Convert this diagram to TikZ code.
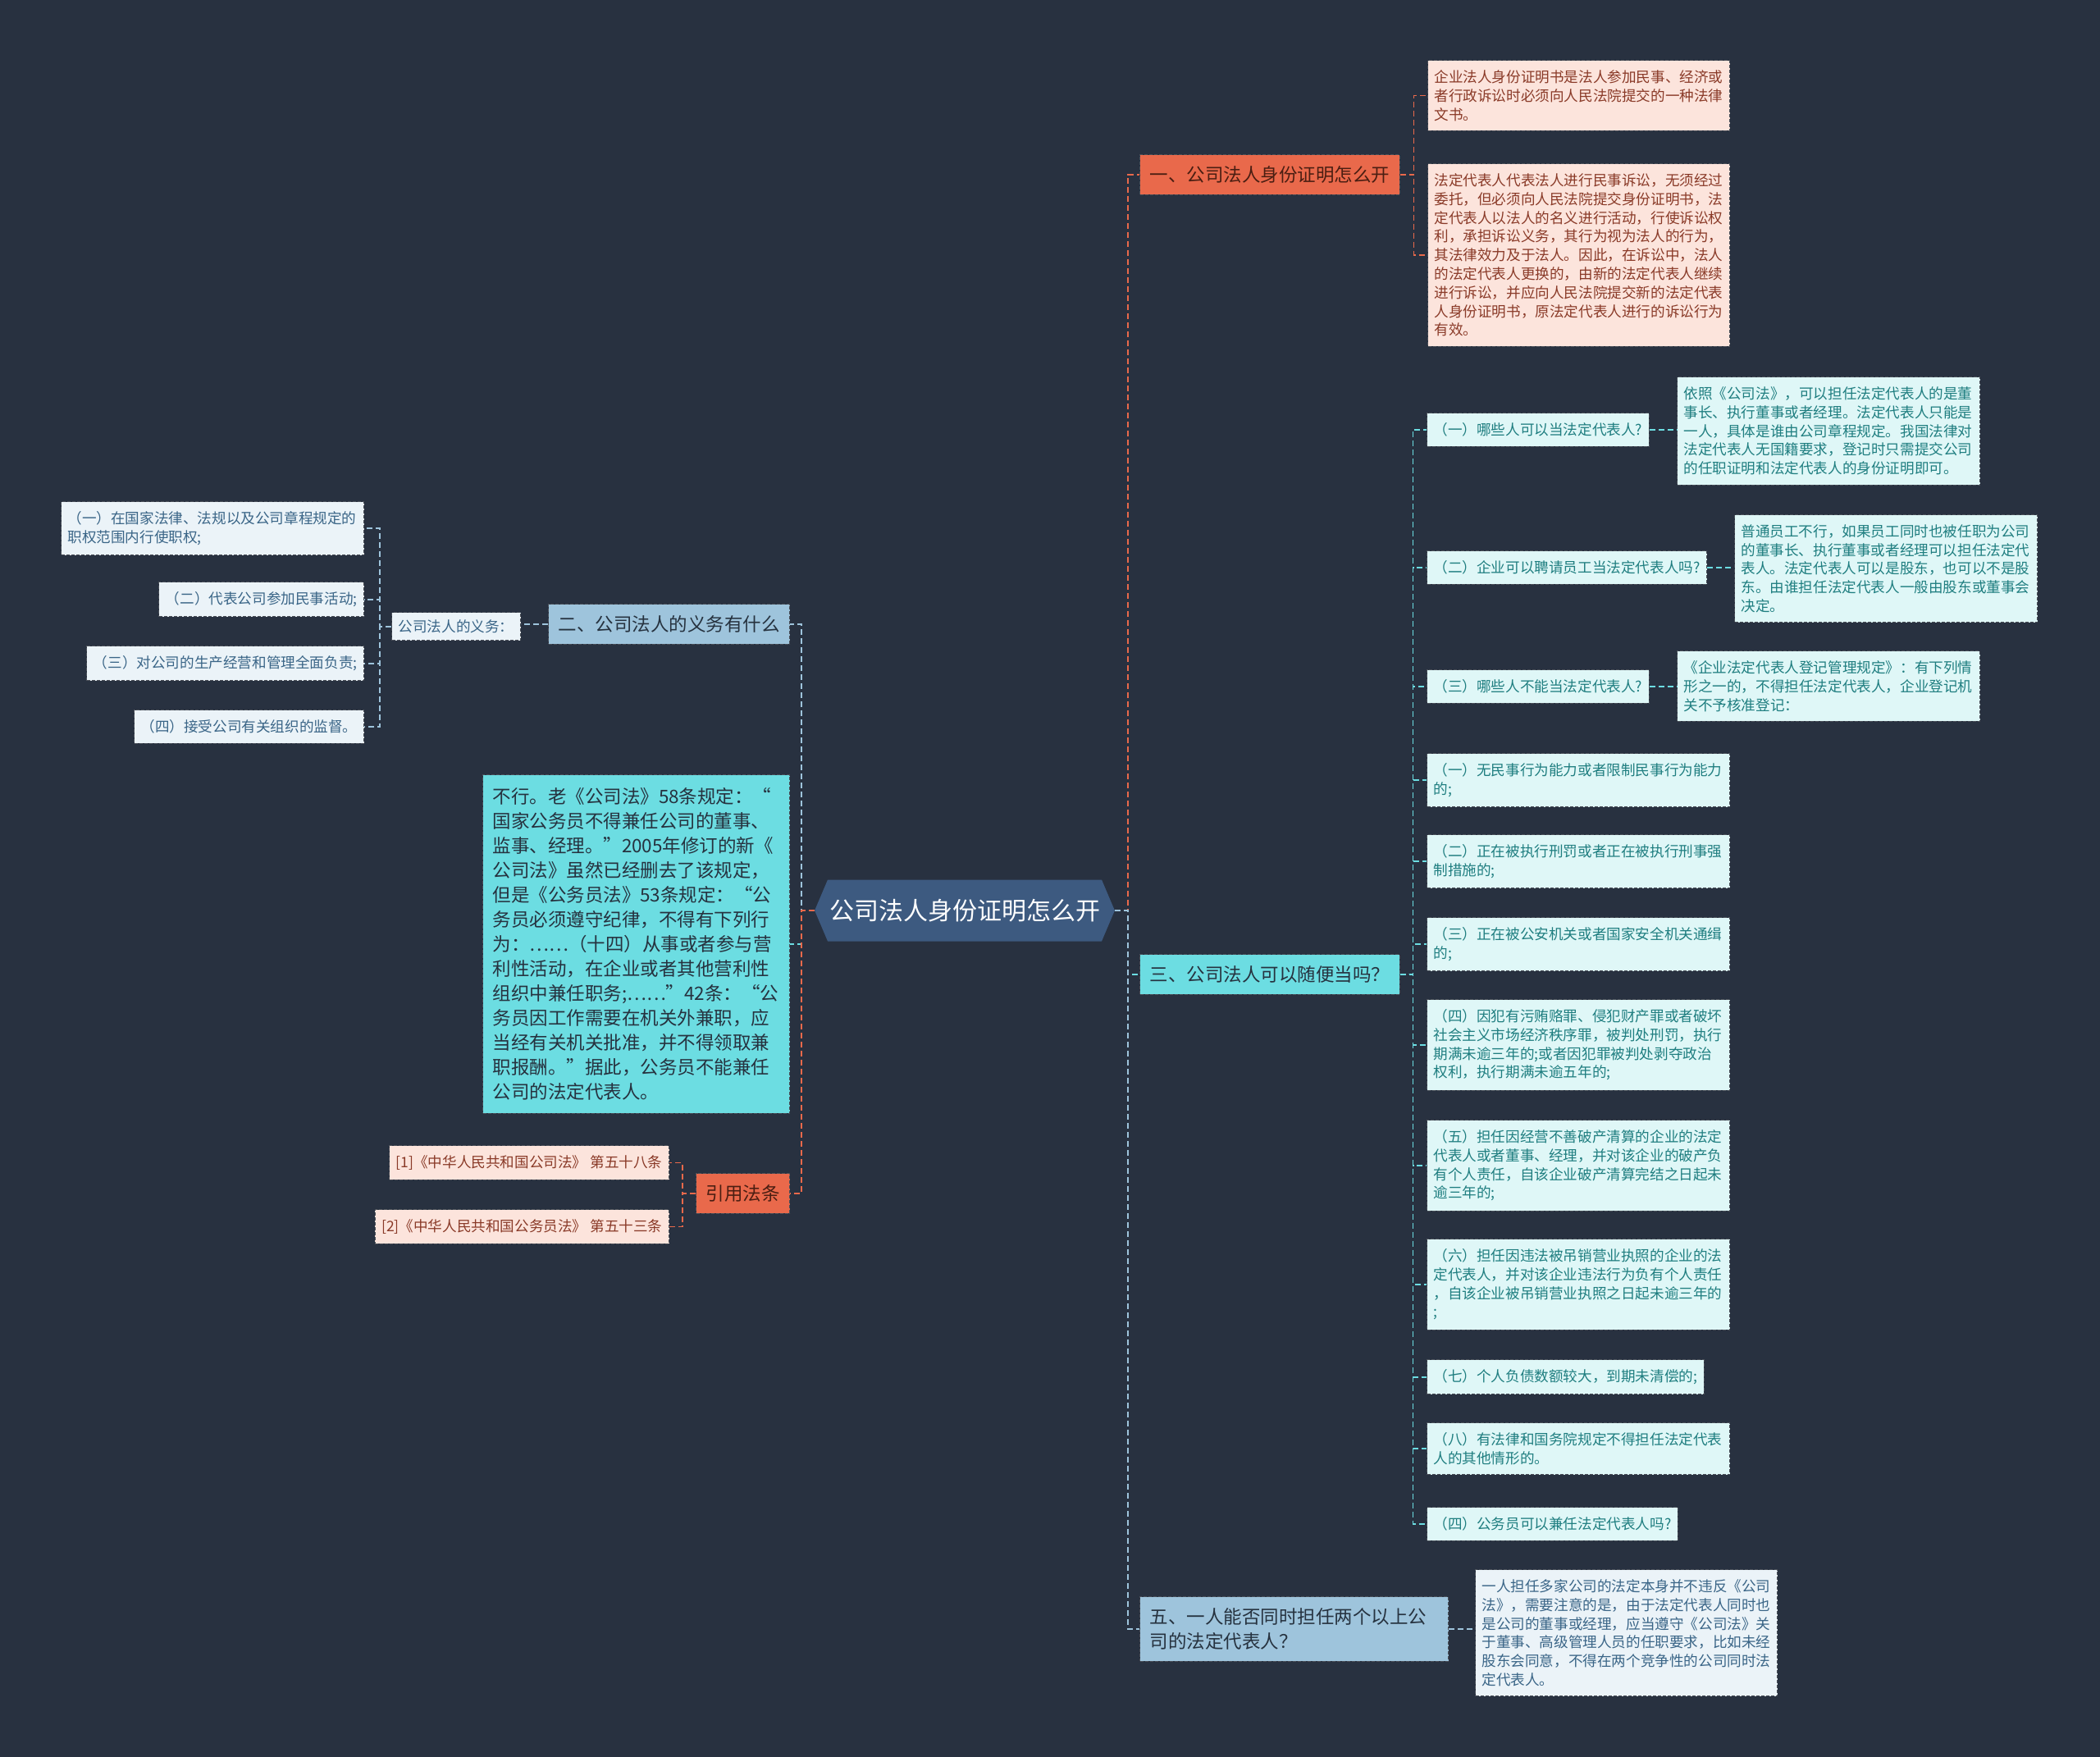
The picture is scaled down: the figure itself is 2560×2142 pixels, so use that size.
\documentclass[tikz,border=0pt]{standalone}
\usepackage{fontspec}
\setmainfont{Noto Sans CJK SC}
\usepackage{tikz}
\usetikzlibrary{shapes.symbols}

\definecolor{bgc}{HTML}{283140}
\definecolor{rootc}{HTML}{3D5A80}
\definecolor{redc}{HTML}{E9694B}
\definecolor{redtxt}{HTML}{4A1E12}
\definecolor{pinkc}{HTML}{FCE4DC}
\definecolor{pinktxt}{HTML}{8A3A28}
\definecolor{bluec}{HTML}{9EC4DC}
\definecolor{palec}{HTML}{EBF3F8}
\definecolor{paletxt}{HTML}{3A6587}
\definecolor{tealc}{HTML}{6CDDE2}
\definecolor{mintc}{HTML}{DFF7F7}
\definecolor{minttxt}{HTML}{1F7E80}
\definecolor{darktxt}{HTML}{26323F}
\definecolor{edgec}{HTML}{4A4F58}

\begin{document}
\begin{tikzpicture}[x=1pt,y=-1pt,
  leaf/.style={draw=edgec, dash pattern=on 4pt off 2pt, line width=1pt, align=left,
    inner xsep=8pt, inner ysep=12pt, font=\fontsize{17.6}{22.8}\selectfont},
  pinkleaf/.style={leaf, fill=pinkc, text=pinktxt},
  paleleaf/.style={leaf, fill=palec, text=paletxt},
  mintleaf/.style={leaf, fill=mintc, text=minttxt},
  topic/.style={draw=edgec, dash pattern=on 4pt off 2pt, line width=1pt, align=left,
    inner xsep=12pt, inner ysep=14pt, font=\fontsize{22.5}{30}\selectfont},
  redtopic/.style={topic, fill=redc, text=redtxt},
  bluetopic/.style={topic, fill=bluec, text=darktxt},
  tealtopic/.style={topic, fill=tealc, text=darktxt},
  rootnode/.style={signal, signal to=west and east, signal pointer angle=134,
    fill=rootc, text=white, minimum height=75pt, inner xsep=2pt,
    font=\fontsize{30}{36}\selectfont},
  link/.style={dash pattern=on 7pt off 4pt, line width=2.2pt},
  redlink/.style={link, draw=redc},
  bluelink/.style={link, draw=bluec},
  teallink/.style={link, draw=tealc}]

\fill [bgc] (0,0) rectangle (2560,2142);

\node [rootnode] (root) at (1176,1110) {公司法人身份证明怎么开};

% right side
\node [redtopic, anchor=north west] (q1) at (1389,188) {一、公司法人身份证明怎么开};
\node [pinkleaf, anchor=north west, text width=352pt] (a1) at (1740,73)
  {企业法人身份证明书是法人参加民事、经济或\\者行政诉讼时必须向人民法院提交的一种法律\\文书。};
\node [pinkleaf, anchor=north west, text width=352pt] (a2) at (1740,199)
  {法定代表人代表法人进行民事诉讼，无须经过\\委托，但必须向人民法院提交身份证明书，法\\定代表人以法人的名义进行活动，行使诉讼权\\利，承担诉讼义务，其行为视为法人的行为，\\其法律效力及于法人。因此，在诉讼中，法人\\的法定代表人更换的，由新的法定代表人继续\\进行诉讼，并应向人民法院提交新的法定代表\\人身份证明书，原法定代表人进行的诉讼行为\\有效。};

\node [tealtopic, anchor=north west] (q3) at (1389,1163) {三、公司法人可以随便当吗？};
\node [mintleaf, anchor=north west] (s1) at (1739,503) {（一）哪些人可以当法定代表人?};
\node [mintleaf, anchor=north west, text width=353pt] (s1a) at (2044,459)
  {依照《公司法》，可以担任法定代表人的是董\\事长、执行董事或者经理。法定代表人只能是\\一人，具体是谁由公司章程规定。我国法律对\\法定代表人无国籍要求，登记时只需提交公司\\的任职证明和法定代表人的身份证明即可。};
\node [mintleaf, anchor=north west] (s2) at (1739,671) {（二）企业可以聘请员工当法定代表人吗?};
\node [mintleaf, anchor=north west, text width=353pt] (s2a) at (2114,627)
  {普通员工不行，如果员工同时也被任职为公司\\的董事长、执行董事或者经理可以担任法定代\\表人。法定代表人可以是股东，也可以不是股\\东。由谁担任法定代表人一般由股东或董事会\\决定。};
\node [mintleaf, anchor=north west] (s3) at (1739,816) {（三）哪些人不能当法定代表人?};
\node [mintleaf, anchor=north west, text width=353pt] (s3a) at (2044,793)
  {《企业法定代表人登记管理规定》：有下列情\\形之一的，不得担任法定代表人，企业登记机\\关不予核准登记：};
\node [mintleaf, anchor=north west, text width=353pt] (i1) at (1739,918)
  {（一）无民事行为能力或者限制民事行为能力\\的;};
\node [mintleaf, anchor=north west, text width=353pt] (i2) at (1739,1017)
  {（二）正在被执行刑罚或者正在被执行刑事强\\制措施的;};
\node [mintleaf, anchor=north west, text width=353pt] (i3) at (1739,1118)
  {（三）正在被公安机关或者国家安全机关通缉\\的;};
\node [mintleaf, anchor=north west, text width=353pt] (i4) at (1739,1218)
  {（四）因犯有污贿赂罪、侵犯财产罪或者破坏\\社会主义市场经济秩序罪，被判处刑罚，执行\\期满未逾三年的;或者因犯罪被判处剥夺政治\\权利，执行期满未逾五年的;};
\node [mintleaf, anchor=north west, text width=353pt] (i5) at (1739,1365)
  {（五）担任因经营不善破产清算的企业的法定\\代表人或者董事、经理，并对该企业的破产负\\有个人责任，自该企业破产清算完结之日起未\\逾三年的;};
\node [mintleaf, anchor=north west, text width=353pt] (i6) at (1739,1510)
  {（六）担任因违法被吊销营业执照的企业的法\\定代表人，并对该企业违法行为负有个人责任\\，自该企业被吊销营业执照之日起未逾三年的\\;};
\node [mintleaf, anchor=north west] (i7) at (1739,1657) {（七）个人负债数额较大，到期未清偿的;};
\node [mintleaf, anchor=north west, text width=353pt] (i8) at (1739,1734)
  {（八）有法律和国务院规定不得担任法定代表\\人的其他情形的。};
\node [mintleaf, anchor=north west] (s4) at (1739,1837) {（四）公务员可以兼任法定代表人吗?};

\node [bluetopic, anchor=north west, text width=352pt] (q5) at (1389,1946)
  {五、一人能否同时担任两个以上公\\司的法定代表人？};
\node [paleleaf, anchor=north west, text width=352pt] (q5a) at (1798,1913)
  {一人担任多家公司的法定本身并不违反《公司\\法》，需要注意的是，由于法定代表人同时也\\是公司的董事或经理，应当遵守《公司法》关\\于董事、高级管理人员的任职要求，比如未经\\股东会同意，不得在两个竞争性的公司同时法\\定代表人。};

% left side
\node [bluetopic, anchor=north east] (q2) at (963,736) {二、公司法人的义务有什么};
\node [paleleaf, anchor=north east, inner ysep=9pt] (duty) at (635,746) {公司法人的义务：};
\node [paleleaf, anchor=north east, text width=353pt] (d1) at (444,611)
  {（一）在国家法律、法规以及公司章程规定的\\职权范围内行使职权;};
\node [paleleaf, anchor=north east] (d2) at (444,709) {（二）代表公司参加民事活动;};
\node [paleleaf, anchor=north east] (d3) at (444,787) {（三）对公司的生产经营和管理全面负责;};
\node [paleleaf, anchor=north east] (d4) at (444,865) {（四）接受公司有关组织的监督。};

\node [tealtopic, anchor=north east, text width=350pt, inner ysep=16pt] (tb) at (963,944)
  {不行。老《公司法》58条规定：“\\国家公务员不得兼任公司的董事、\\监事、经理。”2005年修订的新《\\公司法》虽然已经删去了该规定，\\但是《公务员法》53条规定：“公\\务员必须遵守纪律，不得有下列行\\为：……（十四）从事或者参与营\\利性活动，在企业或者其他营利性\\组织中兼任职务;……”42条：“公\\务员因工作需要在机关外兼职，应\\当经有关机关批准，并不得领取兼\\职报酬。”据此，公务员不能兼任\\公司的法定代表人。};

\node [redtopic, anchor=north east] (cite) at (963,1430) {引用法条};
\node [pinkleaf, anchor=north east] (r1) at (816,1396) {[1]《中华人民共和国公司法》 第五十八条};
\node [pinkleaf, anchor=north east] (r2) at (816,1474) {[2]《中华人民共和国公务员法》 第五十三条};

% connectors
\draw [teallink] (root.west) -- ++(-16,0) |- (tb.east);
\draw [bluelink] (root.west) -- ++(-16,0) |- (q2.east);
\draw [redlink] (root.west) -- ++(-16,0) |- (cite.east);
\draw [redlink] (root.east) -- ++(16,0) |- (q1.west);
\draw [teallink] (root.east) -- ++(16,0) |- (q3.west);
\draw [bluelink] (root.east) -- ++(16,0) |- (q5.west);

\foreach \c in {a1,a2}
{
\draw [redlink, line width=1.8pt] (q1.east) -- ++(17,0) |- (\c.west);
}
\foreach \c in {s1,s2,s3,i1,i2,i3,i4,i5,i6,i7,i8,s4}
{
\draw [teallink, line width=1.8pt] (q3.east) -- ++(16,0) |- (\c.west);
}
\draw [teallink, line width=1.8pt] (s1.east) -- (s1.east -| s1a.west);
\draw [teallink, line width=1.8pt] (s2.east) -- (s2.east -| s2a.west);
\draw [teallink, line width=1.8pt] (s3.east) -- (s3.east -| s3a.west);
\draw [bluelink, line width=1.8pt] (q5.east) -- (q5.east -| q5a.west);

\draw [bluelink, line width=1.8pt] (q2.west) -- (q2.west -| duty.east);
\foreach \c in {d1,d2,d3,d4}
{
\draw [bluelink, line width=1.8pt] (duty.west) -- ++(-14,0) |- (\c.east);
}
\foreach \c in {r1,r2}
{
\draw [redlink, line width=1.8pt] (cite.west) -- ++(-16,0) |- (\c.east);
}

\end{tikzpicture}
\end{document}
